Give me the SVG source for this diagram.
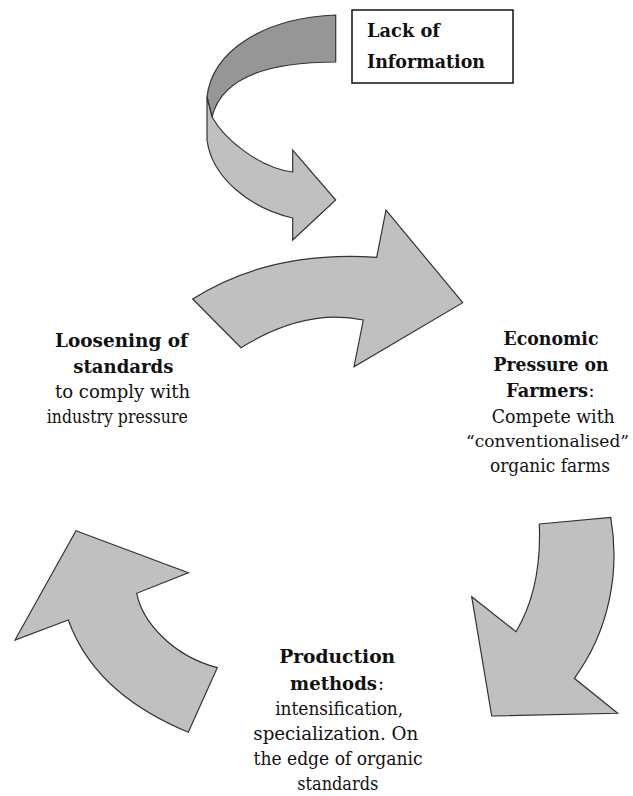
<svg xmlns="http://www.w3.org/2000/svg" width="633" height="796" viewBox="0 0 633 796">
<style>
.arr{fill:#c0c0c0;stroke:#333;stroke-width:1.2;stroke-linejoin:miter}
.dark{fill:#969696;stroke:#333;stroke-width:1.2}
text{font-family:'DejaVu Serif','Liberation Serif',serif;fill:#111}
.b{font-weight:bold;font-size:19px}
.r{font-size:18px}
.c{text-anchor:middle}
</style>
<rect width="633" height="796" fill="#fff"/>
<g id="connectors">
<g id="curl-arrow">
<path class="dark" d="M335.7,15 C262,18 212,52 207,97 L212,117 C222,75 275,62 335.7,62 Z"/>
<path class="arr" d="M207,97 L207,140 C212,178 250,208 292.7,218 L292.7,240 L335.7,200 L292.7,150 L292.7,172 C260,168 225,140 212,117 Z"/>
</g>
<path id="arrow-top" class="arr" d="M192.7,299 Q270,250 376.7,257.3 L386,210 L462.7,302.7 L354,366.7 L363.3,320 Q305,308 241,347.7 Z"/>
<path id="arrow-right" class="arr" d="M539.3,524 L610.7,517.3 C620,570 610,630 574.3,678.3 L617.7,713.3 L491.7,716 L471.7,596.7 L516,631.7 C535,600 541,565 539.3,524 Z"/>
<path id="arrow-left" class="arr" d="M76,530.7 L188.3,572.7 L136.7,593.3 C142,620 170,655 217.3,667.7 L188.3,732.3 C140,712 90,680 68.3,620 L15,640 Z"/>
</g>
<g id="lack">
<rect x="352" y="10" width="161" height="73" fill="#fff" stroke="#111" stroke-width="1.5"/>
<text class="b" x="367" y="37" textLength="73" lengthAdjust="spacingAndGlyphs">Lack of</text>
<text class="b" x="367" y="68" textLength="118" lengthAdjust="spacingAndGlyphs">Information</text>
</g>
<g id="loosening">
<text class="b c" x="121.5" y="346.7" textLength="133" lengthAdjust="spacingAndGlyphs">Loosening of</text>
<text class="b c" x="123.3" y="372.7" textLength="100" lengthAdjust="spacingAndGlyphs">standards</text>
<text class="r c" x="122.5" y="398" textLength="135" lengthAdjust="spacingAndGlyphs">to comply with</text>
<text class="r c" x="117.3" y="423" textLength="141" lengthAdjust="spacingAndGlyphs">industry pressure</text>
</g>
<g id="economic">
<text class="b c" x="551" y="345" textLength="95" lengthAdjust="spacingAndGlyphs">Economic</text>
<text class="b c" x="551" y="370.7" textLength="115" lengthAdjust="spacingAndGlyphs">Pressure on</text>
<text class="b" x="506" y="396.7" style="font-size:18px" textLength="82" lengthAdjust="spacingAndGlyphs">Farmers</text>
<text class="r" x="588.5" y="396.7">:</text>
<text class="r c" x="553.3" y="423.3" textLength="123" lengthAdjust="spacingAndGlyphs">Compete with</text>
<text class="r c" x="547.5" y="447" style="font-size:16px" textLength="163" lengthAdjust="spacingAndGlyphs">“conventionalised”</text>
<text class="r c" x="550" y="471.7" textLength="120" lengthAdjust="spacingAndGlyphs">organic farms</text>
</g>
<g id="production">
<text class="b c" x="337.2" y="662.7" textLength="116" lengthAdjust="spacingAndGlyphs">Production</text>
<text class="b" x="290" y="690" style="font-size:18.4px" textLength="87" lengthAdjust="spacingAndGlyphs">methods</text>
<text class="r" x="378" y="690">:</text>
<text class="r c" x="339.2" y="715" textLength="128" lengthAdjust="spacingAndGlyphs">intensification,</text>
<text class="r c" x="335.8" y="740" textLength="165" lengthAdjust="spacingAndGlyphs">specialization. On</text>
<text class="r c" x="338" y="765" textLength="169" lengthAdjust="spacingAndGlyphs">the edge of organic</text>
<text class="r c" x="337.8" y="790" textLength="81" lengthAdjust="spacingAndGlyphs">standards</text>
</g>
</svg>
